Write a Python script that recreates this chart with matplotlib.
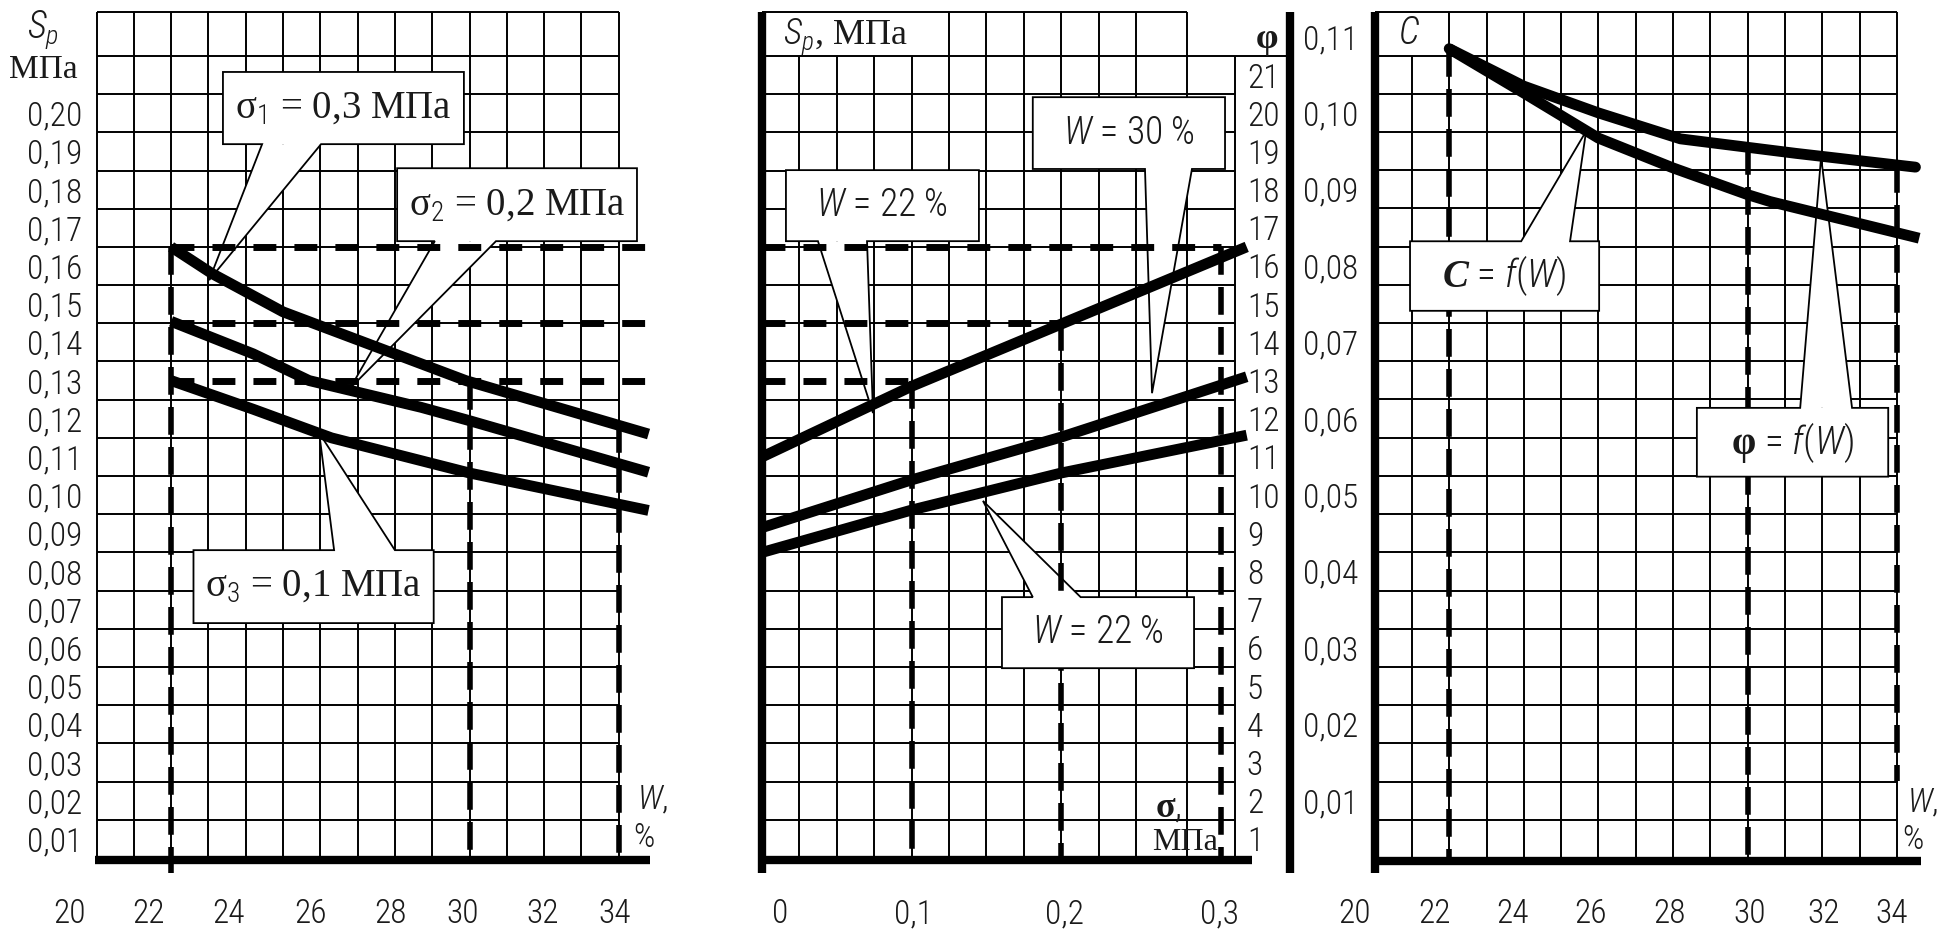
import numpy as np
import matplotlib
matplotlib.use("Agg")
import matplotlib.pyplot as plt
from matplotlib import font_manager
from matplotlib.patches import Polygon, Rectangle

# --- fonts -----------------------------------------------------------------
names = {f.name for f in font_manager.fontManager.ttflist}
SANS = next((n for n in ["Liberation Sans Narrow", "Roboto Condensed", "DejaVu Sans"]
             if n in names), "DejaVu Sans")
SERIF = "Liberation Serif"
plt.rcParams["font.family"] = [SANS, "DejaVu Sans"]
plt.rcParams["font.weight"] = "light"
plt.rcParams["mathtext.fontset"] = "custom"
plt.rcParams["mathtext.rm"] = SANS + ":light"
plt.rcParams["mathtext.sf"] = SANS + ":light"
plt.rcParams["mathtext.it"] = SANS + ":italic:light"
plt.rcParams["mathtext.bf"] = SERIF + ":bold"
BFIT = "bf"
if "mathtext.bfit" in plt.rcParams:
    plt.rcParams["mathtext.bfit"] = SERIF + ":italic:bold"
    BFIT = "bfit"
TXT = "#1a1a1a"

# --- data ------------------------------------------------------------------
# left: Sp = f(W) for three normal stresses
w_s1 = [22, 23.1, 25.0, 29.9, 34.8]
sp_s1 = [0.165, 0.158, 0.148, 0.130, 0.116]
w_s2 = [22, 24.2, 25.7, 28.7, 30, 34.8]
sp_s2 = [0.1455, 0.137, 0.130, 0.123, 0.1195, 0.106]
w_s3 = [22, 24.2, 26.3, 30, 34.8]
sp_s3 = [0.130, 0.1225, 0.115, 0.1058, 0.096]

# middle: Sp = f(sigma)
sig = [0, 0.1, 0.2, 0.324]
sp_w22 = [0.110, 0.1285, 0.1448, 0.165]
sp_w30 = [0.0915, 0.104, 0.1152, 0.131]
sp_low = [0.085, 0.0961, 0.1058, 0.1157]

# right: C = f(W), phi = f(W)
w_c = [22, 24, 26, 28, 30, 30.6, 34.6]
c_vals = [0.1084, 0.1026, 0.0967, 0.0928, 0.0893, 0.0884, 0.0836]
w_phi = [22, 24, 26, 28.2, 31.3, 34.5]
phi_vals = [0.1084, 0.1035, 0.1000, 0.0966, 0.0947, 0.0929]

# reference levels (dashed)
w_ref = [22, 30, 34]
sp_ref = [0.165, 0.145, 0.13]
sig_ref = [0.1, 0.2, 0.307]

# ticks
sp_ticks = [round(0.01 * i, 2) for i in range(1, 21)]
c_ticks = [round(0.01 * i, 2) for i in range(1, 12)]
phi_ticks = list(range(1, 22))
w_labels = ["20", "22", "24", "26", "28", "30", "32", "34"]
w_pos_left = [19.27, 21.4, 23.55, 25.75, 27.87, 29.82, 31.95, 33.89]
w_pos_right = [19.45, 21.6, 23.7, 25.8, 27.9, 30.05, 32.03, 33.87]
sig_labels = ["0", "0,1", "0,2", "0,3"]
sig_pos = [0.012, 0.101, 0.202, 0.306]


def fmt(v):
    return f"{v:.2f}".replace(".", ",")


# --- figure ----------------------------------------------------------------
FW, FH = 1939, 934
TICK = 24
XPAD = 29
fig = plt.figure(figsize=(FW / 100, FH / 100), dpi=100)


def panel(x0, x1, top=12, bottom=858):
    ax = fig.add_axes([x0 / FW, 1 - bottom / FH, (x1 - x0) / FW, (bottom - top) / FH])
    for sp in ax.spines.values():
        sp.set_visible(False)
    ax.patch.set_visible(False)
    ax.tick_params(length=0, labelsize=TICK, colors=TXT)
    return ax


def ftext(px, py, s, **kw):
    fig.text(px / FW, 1 - py / FH, s, color=TXT, **kw)


GRID = dict(color="black", lw=1.4, zorder=1, clip_on=False)
THICK = dict(color="black", lw=6, zorder=6, clip_on=False, solid_capstyle="butt")
CURVE = dict(color="black", lw=7.8, zorder=6, clip_on=False,
             solid_capstyle="butt", solid_joinstyle="round")
HDASH = dict(color="black", lw=5, ls=(0, (3.3, 2.6)), zorder=3, clip_on=False,
             dash_capstyle="butt")
VDASH = dict(color="black", lw=4, ls=(0, (5, 2.2)), zorder=3, clip_on=False,
             dash_capstyle="butt")


def callout(ax, box, base, tip, text, size, family):
    (x0, x1), (y0, y1) = box
    xa, xb = base
    edge = y0 if tip[1] < y0 else y1
    far = y1 if edge == y0 else y0
    outline = [(x0, far), (x1, far), (x1, edge), (xb, edge), tip, (xa, edge), (x0, edge)]
    ax.add_patch(Polygon([(xa, edge), tip, (xb, edge)], closed=True, fc="white",
                         ec="none", zorder=2, clip_on=False))
    ax.add_patch(Rectangle((x0, y0), x1 - x0, y1 - y0, fc="white", ec="none",
                           zorder=4, clip_on=False))
    ax.add_patch(Polygon(outline, closed=True, fill=False, ec="black", lw=1.3,
                         zorder=5, clip_on=False))
    ax.text((x0 + x1) / 2, (y0 + y1) / 2, text, ha="center", va="center",
            fontsize=size, family=family, color=TXT, zorder=7)


# ---------------- left panel: Sp(W) ----------------
ax1 = panel(59.2, 656.0)
ax1.set_xlim(19, 35)
ax1.set_ylim(0.005, 0.2265)
ax1.vlines(np.arange(20, 35), 0.005, 0.2265, **GRID)
ax1.hlines(np.append(np.arange(0.015, 0.216, 0.01), 0.2265), 20, 34, **GRID)
ax1.plot([19.95, 34.85], [0.0045, 0.0045], **THICK)

for s in sp_ref:
    ax1.plot([22, 34.9], [s, s], **HDASH)
ax1.plot([22, 22], [sp_ref[0], 0.0012], **VDASH)
for w in w_ref[1:]:
    ax1.plot([w, w], [np.interp(w, w_s1, sp_s1), 0.005], **VDASH)

for w, s in [(w_s1, sp_s1), (w_s2, sp_s2), (w_s3, sp_s3)]:
    ax1.plot(w, s, **CURVE)

ax1.set_xticks(w_pos_left, w_labels)
ax1.set_yticks(sp_ticks, [fmt(v) for v in sp_ticks])
ax1.tick_params(axis="x", pad=XPAD)
ax1.tick_params(axis="y", pad=-16.5)

callout(ax1, ((23.39, 29.85), (0.1919, 0.2108)), (24.44, 26.02), (23.02, 0.1563),
        r"σ$_{\mathsf{1}}$ = 0,3 МПа", 28, SERIF)
callout(ax1, ((28.06, 34.49), (0.1665, 0.1856)), (29.07, 30.71), (26.8, 0.128),
        r"σ$_{\mathsf{2}}$ = 0,2 МПа", 28, SERIF)
callout(ax1, ((22.60, 29.04), (0.0665, 0.0856)), (26.37, 28.0), (25.97, 0.1163),
        r"σ$_{\mathsf{3}}$ = 0,1 МПа", 28, SERIF)

ftext(43, 30, r"$S_p$", fontsize=27, ha="center", va="center")
ftext(43, 70, "МПа", fontsize=24, family=SERIF, ha="center", va="center")
ftext(637, 800, r"$W$,", fontsize=24, ha="left", va="center")
ftext(633, 838, "%", fontsize=24, ha="left", va="center")

# ---------------- middle panel: Sp(sigma) ----------------
ax2 = panel(762, 1290.1)
ax2.set_xlim(0, 0.353)
ax2.set_ylim(0.005, 0.2265)
sig_grid = np.arange(0.025, 0.26, 0.025)
ax2.vlines(sig_grid[:4], 0.005, 0.215, **GRID)
ax2.vlines(np.append(sig_grid[4:], 0.284), 0.005, 0.2265, **GRID)
ax2.vlines(0.316, 0.005, 0.215, **GRID)
ax2.hlines(np.arange(0.015, 0.206, 0.01), 0, 0.316, **GRID)
ax2.hlines(0.215, 0, 0.353, **GRID)
ax2.hlines(0.2265, 0, 0.284, **GRID)
ax2.plot([0, 0], [0.2265, 0.0011], **THICK)
ax2.plot([0.353, 0.353], [0.2265, 0.0011], **THICK)
ax2.plot([-0.001, 0.3275], [0.0045, 0.0045], **THICK)

for x, s in zip(sig_ref, sp_ref[::-1]):
    ax2.plot([0, x], [s, s], **HDASH)
    ax2.plot([x, x], [s, 0.005], **VDASH)

for s in (sp_w22, sp_w30, sp_low):
    ax2.plot(sig, s, **CURVE)

ax2.set_xticks(sig_pos, sig_labels)
ax2.set_yticks([])
ax2.tick_params(axis="x", pad=XPAD)

sec = ax2.secondary_yaxis((1244 - 762) / 528.1,
                          functions=(lambda s: s * 100, lambda p: p / 100))
sec.set_yticks(phi_ticks, [str(p) for p in phi_ticks])
sec.tick_params(length=0, pad=2, labelsize=TICK, colors=TXT)
for sp in sec.spines.values():
    sp.set_visible(False)

callout(ax2, ((0.016, 0.145), (0.1665, 0.1851)), (0.0374, 0.0702), (0.0742, 0.1215),
        r"$W$ = 22 %", 27, SANS)
callout(ax2, ((0.181, 0.3095), (0.1854, 0.2042)), (0.256, 0.2874), (0.2607, 0.1267),
        r"$W$ = 30 %", 27, SANS)
callout(ax2, ((0.1604, 0.2888), (0.0547, 0.0733)), (0.181, 0.213), (0.1477, 0.0985),
        r"$W$ = 22 %", 27, SANS)

ftext(783, 37, r"$S_p$, МПа", fontsize=26, family=SERIF, ha="left", va="center")
ftext(1267, 40, "φ", fontsize=26, family=SERIF, weight="bold", ha="center", va="center")
ftext(1155, 807, r"$\mathbf{\sigma}$,", fontsize=26, ha="left", va="center")
ftext(1152, 843, "МПа", fontsize=23, family=SERIF, ha="left", va="center")

# ---------------- right panel: C(W), phi(W) ----------------
ax3 = panel(1337.3, 1934.1)
ax3.set_xlim(19, 35)
ax3.set_ylim(0.0025, 0.1132)
ax3.vlines(21, 0.0025, 0.1075, **GRID)
ax3.vlines(np.arange(22, 35), 0.0025, 0.1132, **GRID)
ax3.hlines(np.append(np.arange(0.0075, 0.108, 0.005), 0.1132), 20, 34, **GRID)
ax3.plot([20, 20], [0.1132, 0.0005], **THICK)
ax3.plot([19.95, 34.64], [0.00216, 0.00216], **THICK)

ax3.plot([22, 22], [c_vals[0], 0.0025], **VDASH)
ax3.plot([30, 30], [np.interp(30, w_phi, phi_vals), 0.0025], **VDASH)
ax3.plot([34, 34], [np.interp(34, w_phi, phi_vals), 0.0126], **VDASH)

ax3.plot(w_c, c_vals, **CURVE)
ax3.plot(w_phi, phi_vals, **{**CURVE, "solid_capstyle": "round"})

ax3.set_xticks(w_pos_right, w_labels)
ax3.set_yticks(c_ticks, [fmt(v) for v in c_ticks])
ax3.tick_params(axis="x", pad=XPAD)
ax3.tick_params(axis="y", pad=-14.9)

callout(ax3, ((20.95, 26.02), (0.0741, 0.0832)), (23.93, 25.24), (25.67, 0.0976),
        r"$\math%s{C}$ = $f$($W$)" % BFIT, 28, SANS)
callout(ax3, ((28.64, 33.77), (0.0524, 0.0614)), (31.41, 32.8), (31.97, 0.0942),
        r"$\mathbf{\varphi}$ = $f$($W$)", 28, SANS)

ftext(1398, 33, r"$C$", fontsize=27, ha="left", va="center")
ftext(1907, 803, r"$W$,", fontsize=24, ha="left", va="center")
ftext(1902, 840, "%", fontsize=24, ha="left", va="center")

fig.savefig("out.png", dpi=100)
